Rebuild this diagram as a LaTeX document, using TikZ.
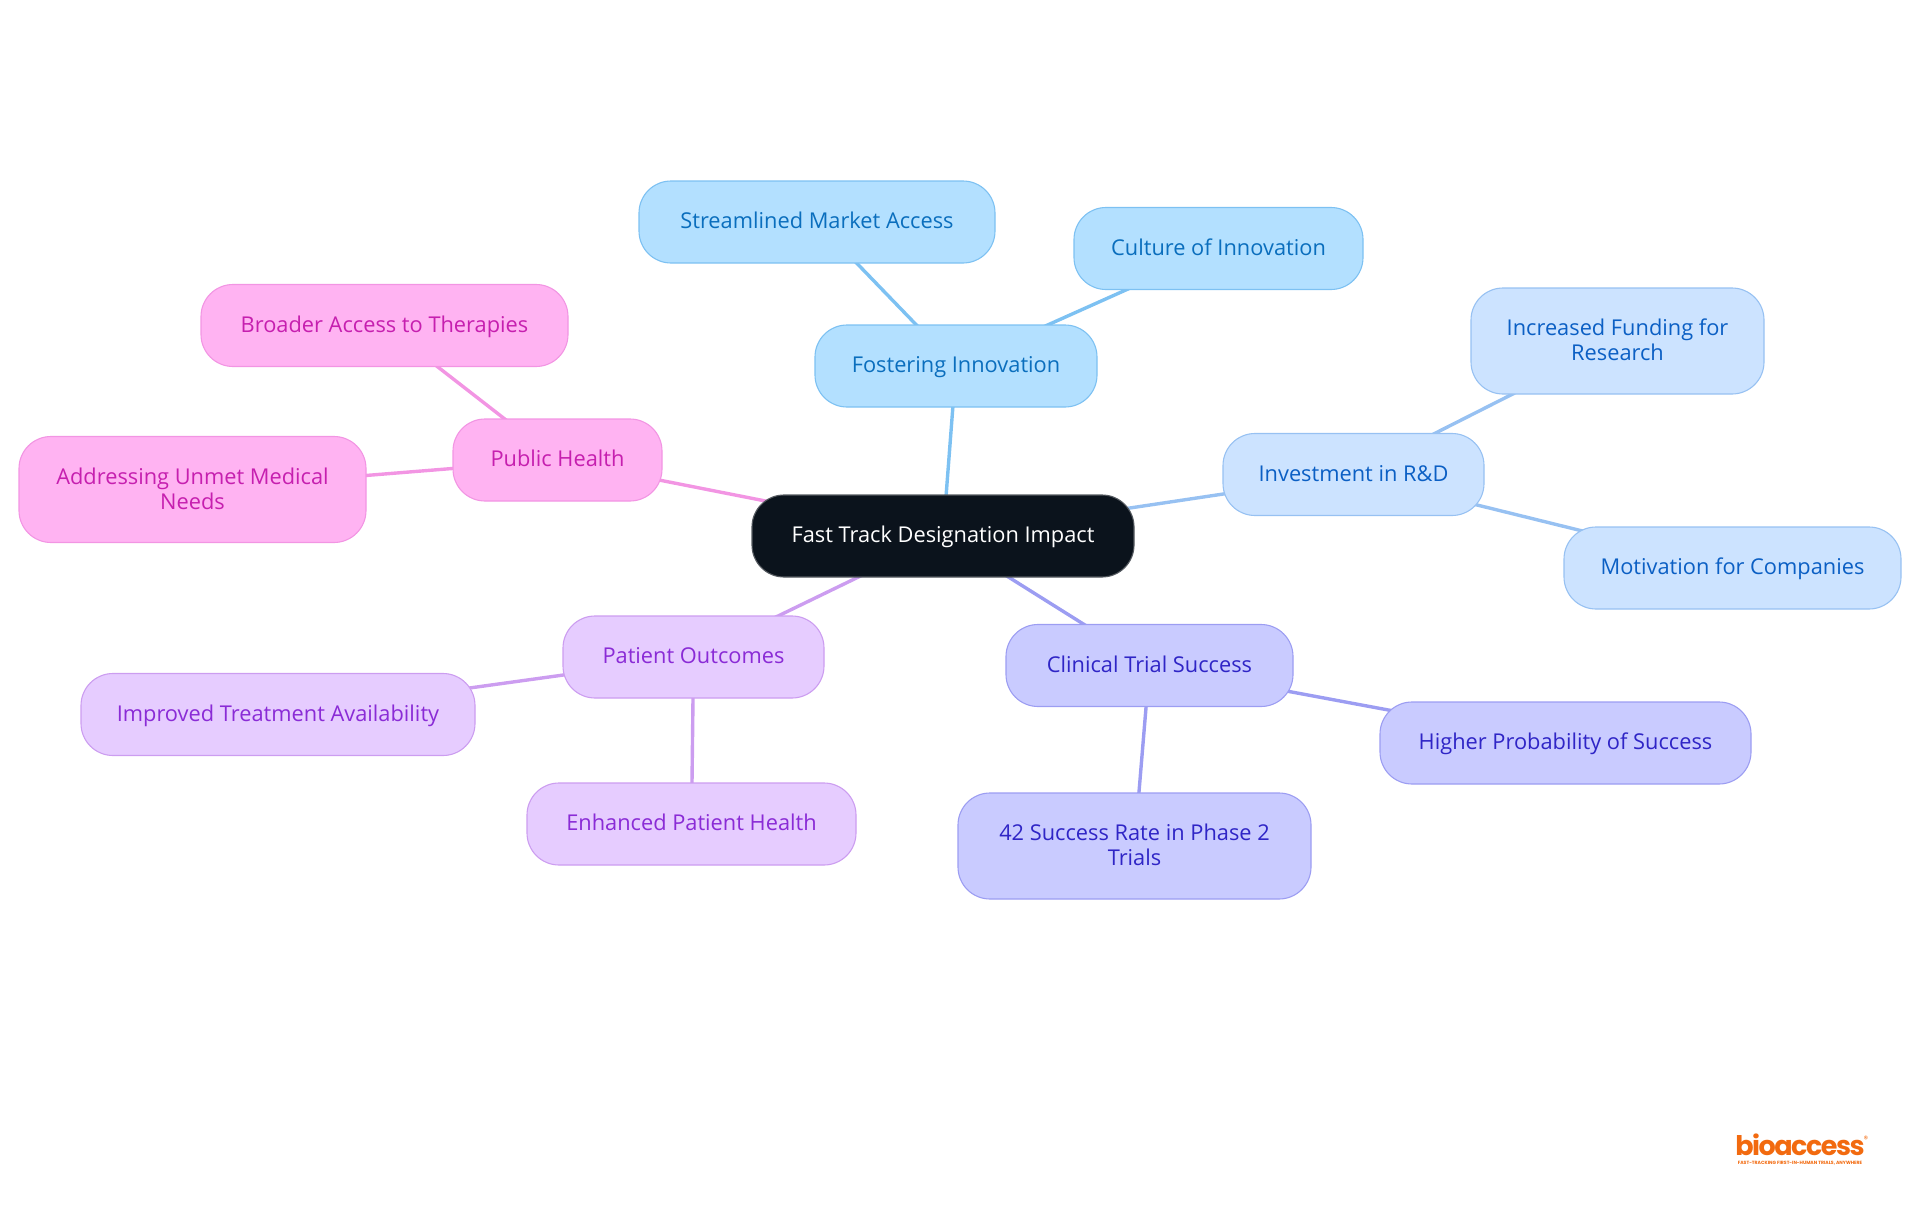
\documentclass[tikz,border=0pt]{standalone}
\usepackage{fontspec}
\usetikzlibrary{backgrounds}
\setmainfont{Open Sans}
\newfontfamily\logofont{Poppins}
\newfontfamily\logotight{Poppins}[LetterSpace=-5.5]
\newcommand{\linestrut}{\rule[-6pt]{0pt}{25pt}}
\newcommand{\toplinestrut}{\rule[-6pt]{0pt}{26.5pt}}
\newcommand{\botlinestrut}{\rule[-6pt]{0pt}{6pt}}
\definecolor{rootfill}{HTML}{0B131C}
\definecolor{rootline}{HTML}{555A60}
\definecolor{innofill}{HTML}{B3E0FF}
\definecolor{innoline}{HTML}{7DC1F2}
\definecolor{innotext}{HTML}{0A6EBD}
\definecolor{fundfill}{HTML}{CCE3FF}
\definecolor{fundline}{HTML}{97C1F2}
\definecolor{fundtext}{HTML}{0B5FC4}
\definecolor{trialfill}{HTML}{C9CBFF}
\definecolor{trialline}{HTML}{9C9DF2}
\definecolor{trialtext}{HTML}{2F25C6}
\definecolor{carefill}{HTML}{E6CCFF}
\definecolor{careline}{HTML}{CC9DF0}
\definecolor{caretext}{HTML}{8A2BD6}
\definecolor{healthfill}{HTML}{FFB3F2}
\definecolor{healthline}{HTML}{F295E3}
\definecolor{healthtext}{HTML}{C61FAF}
\definecolor{logoorange}{HTML}{F26A0F}
\begin{document}
\begin{tikzpicture}[x=1pt,y=1pt]
            \tikzstyle{every node}+=[inner sep=0pt]
            \tikzstyle{pill}=[rectangle,rounded corners=32pt,line width=1.1pt,align=center,font=\fontsize{21.8}{24.6}\selectfont]
            \tikzstyle{rootpill}=[pill,fill=rootfill,draw=rootline,text=white]
            \tikzstyle{inno}=[pill,fill=innofill,draw=innoline,text=innotext]
            \tikzstyle{fund}=[pill,fill=fundfill,draw=fundline,text=fundtext]
            \tikzstyle{trial}=[pill,fill=trialfill,draw=trialline,text=trialtext]
            \tikzstyle{care}=[pill,fill=carefill,draw=careline,text=caretext]
            \tikzstyle{health}=[pill,fill=healthfill,draw=healthline,text=healthtext]
            \tikzstyle{branch}=[line width=3.4pt]
            \useasboundingbox (0,0) rectangle (1920,-1215);
            \node [rootpill,minimum width=382pt,minimum height=82pt] (root) at (943,-536) {\linestrut Fast Track Designation Impact};
            \node [inno,minimum width=282pt,minimum height=82pt] (foster) at (956,-366) {\linestrut Fostering Innovation};
            \node [inno,minimum width=356pt,minimum height=82pt] (market) at (817,-222) {\linestrut Streamlined Market Access};
            \node [inno,minimum width=289pt,minimum height=82pt] (culture) at (1218.5,-248.5) {\linestrut Culture of Innovation};
            \node [fund,minimum width=261pt,minimum height=82pt] (invest) at (1353.5,-474.5) {\linestrut Investment in R\&D};
            \node [fund,minimum width=293pt,minimum height=106pt] (funding) at (1617.5,-341) {\toplinestrut Increased Funding for\\Research\botlinestrut};
            \node [fund,minimum width=337pt,minimum height=82pt] (motive) at (1732.5,-568) {\linestrut Motivation for Companies};
            \node [trial,minimum width=287pt,minimum height=82pt] (clinical) at (1149.5,-665.5) {\linestrut Clinical Trial Success};
            \node [trial,minimum width=371pt,minimum height=82pt] (higher) at (1565.5,-743) {\linestrut Higher Probability of Success};
            \node [trial,minimum width=353pt,minimum height=106pt] (rate) at (1134.5,-846) {\toplinestrut 42 Success Rate in Phase 2\\Trials\botlinestrut};
            \node [care,minimum width=261pt,minimum height=82pt] (patient) at (693.5,-657) {\linestrut Patient Outcomes};
            \node [care,minimum width=394pt,minimum height=82pt] (improved) at (278,-714.5) {\linestrut Improved Treatment Availability};
            \node [care,minimum width=329pt,minimum height=82pt] (enhanced) at (691.5,-824) {\linestrut Enhanced Patient Health};
            \node [health,minimum width=209pt,minimum height=82pt] (public) at (557.5,-460) {\linestrut Public Health};
            \node [health,minimum width=367pt,minimum height=82pt] (broader) at (384.5,-325.5) {\linestrut Broader Access to Therapies};
            \node [health,minimum width=347pt,minimum height=106pt] (unmet) at (192.5,-489.5) {\toplinestrut Addressing Unmet Medical\\Needs\botlinestrut};
            \begin{scope}[on background layer]
            \draw [branch,innoline] (root.center) -- (foster.center);
            \draw [branch,innoline] (foster.center) -- (market.center);
            \draw [branch,innoline] (foster.center) -- (culture.center);
            \draw [branch,fundline] (root.center) -- (invest.center);
            \draw [branch,fundline] (invest.center) -- (funding.center);
            \draw [branch,fundline] (invest.center) -- (motive.center);
            \draw [branch,trialline] (root.center) -- (clinical.center);
            \draw [branch,trialline] (clinical.center) -- (higher.center);
            \draw [branch,trialline] (clinical.center) -- (rate.center);
            \draw [branch,careline] (root.center) -- (patient.center);
            \draw [branch,careline] (patient.center) -- (improved.center);
            \draw [branch,careline] (patient.center) -- (enhanced.center);
            \draw [branch,healthline] (root.center) -- (public.center);
            \draw [branch,healthline] (public.center) -- (broader.center);
            \draw [branch,healthline] (public.center) -- (unmet.center);
            \end{scope}
            \node [text=logoorange,font=\logotight\bfseries\fontsize{27}{27}\selectfont] (logo) at (1800,-1145) {bioaccess};
            \node [text=logoorange,font=\logofont\fontsize{9}{9}\selectfont] (logomark) at (1866,-1139) {®};
            \node [text=logoorange,font=\logofont\bfseries\fontsize{4.6}{5}\selectfont] (logotag) at (1800,-1163) {FAST-TRACKING FIRST-IN-HUMAN TRIALS, ANYWHERE};
        \end{tikzpicture}
\end{document}
